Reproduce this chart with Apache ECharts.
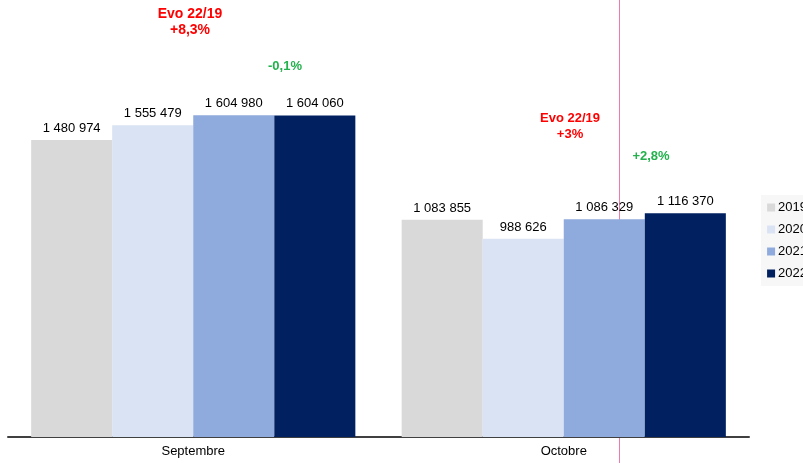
<!DOCTYPE html>
<html>
<head>
<meta charset="utf-8">
<script src="https://cdn.jsdelivr.net/npm/echarts@6/dist/echarts.min.js"></script>
<style>
  html, body { margin: 0; padding: 0; background: #fff; }
  #chart { width: 803px; height: 463px; }
</style>
</head>
<body>
<div id="chart"></div>
<script>
// Monthly totals per year
const months = ['Septembre', 'Octobre'];
const years = ['2019', '2020', '2021', '2022'];
const v2019 = [1480974, 1083855];
const v2020 = [1555479, 988626];
const v2021 = [1604980, 1086329];
const v2022 = [1604060, 1116370];
const yearColors = ['#d9d9d9', '#dae3f3', '#8faadc', '#002060'];

const FONT = 'Liberation Sans, Arial, sans-serif';
const fmt = v => String(v).replace(/\B(?=(\d{3})+(?!\d))/g, ' ');

const seriesValues = [v2019, v2020, v2021, v2022];

const chart = echarts.init(document.getElementById('chart'));
chart.setOption({
  animation: false,
  grid: { left: 8, right: 54, top: 36, bottom: 26, containLabel: false },
  legend: {
    orient: 'vertical',
    right: -10,
    top: 195,
    itemWidth: 8,
    itemHeight: 8,
    itemGap: 9,
    padding: [6, 6, 6, 6],
    backgroundColor: '#f7f7f7',
    icon: 'rect',
    textStyle: { fontFamily: FONT, fontSize: 13, color: '#000', padding: [0, 0, 0, -2] },
    data: years
  },
  xAxis: {
    type: 'category',
    data: months,
    axisLine: { lineStyle: { color: '#404040', width: 2 } },
    axisTick: { show: false },
    axisLabel: { fontFamily: FONT, fontSize: 13, color: '#000', margin: 8 }
  },
  yAxis: {
    type: 'value',
    min: 0,
    max: 2000000,
    show: false,
    splitLine: { show: false }
  },
  series: years.map((y, i) => ({
    name: y,
    type: 'bar',
    data: seriesValues[i],
    barGap: '0%',
    barCategoryGap: '12.5%',
    itemStyle: { color: yearColors[i] },
    label: {
      show: true,
      position: 'top',
      distance: 5,
      fontFamily: FONT,
      fontSize: 13,
      color: '#000',
      formatter: p => fmt(p.value)
    }
  })),
  graphic: [
    { type: 'line', shape: { x1: 619.5, y1: 0, x2: 619.5, y2: 463 }, style: { stroke: '#f07aaa', lineWidth: 1 } },
    { type: 'text', x: 190, y: 6, style: { text: 'Evo 22/19\n+8,3%', align: 'center', fill: '#ff0000', font: 'bold 14px ' + FONT, lineHeight: 16 } },
    { type: 'text', x: 285, y: 60, style: { text: '-0,1%', align: 'center', fill: '#22b14c', font: 'bold 13px ' + FONT } },
    { type: 'text', x: 570, y: 110, style: { text: 'Evo 22/19\n+3%', align: 'center', fill: '#ff0000', font: 'bold 13px ' + FONT, lineHeight: 16 } },
    { type: 'text', x: 651, y: 150, style: { text: '+2,8%', align: 'center', fill: '#22b14c', font: 'bold 13px ' + FONT } }
  ]
});
</script>
</body>
</html>
